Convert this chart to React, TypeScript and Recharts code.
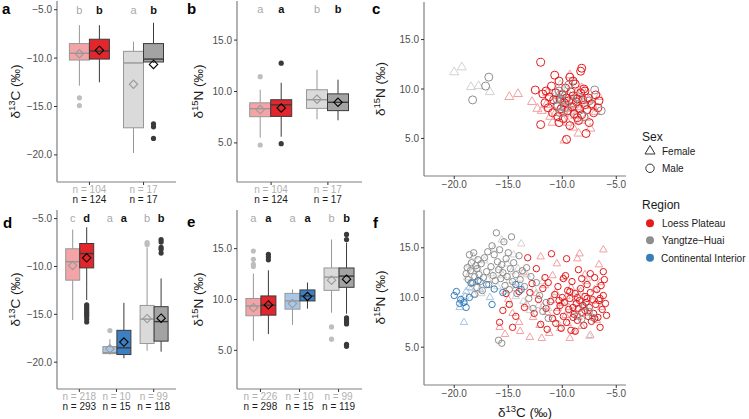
import React from 'react';
import { ComposedChart, Bar, ScatterChart, Scatter, XAxis, YAxis } from 'recharts';

const topRegions = ['Loess Plateau', 'Yangtze-Huai'];
const bottomRegions = ['Loess Plateau', 'Continental Interior', 'Yangtze-Huai'];

// box stats per region: [lower whisker, Q1, median, Q3, upper whisker, mean]
const aFemale = [[-12.85, -10.2, -9.5, -8.5, -6.6, -9.55], [-19.8, -17.2, -10.5, -9.3, -8.3, -12.7]];
const aMale = [[-12.5, -10.1, -9.27, -8.05, -6.6, -9.2], [-10.5, -10.4, -10.1, -8.5, -6.35, -10.65]];
const aFemaleOut = [[-14.1, -14.9], []];
const aMaleOut = [[], [-16.8, -17.1, -18.3]];
const aFemaleLetters = ['b', 'a'];
const aMaleLetters = ['b', 'b'];

const bFemale = [[5.52, 7.55, 8.33, 8.9, 10.17, 8.24], [7.3, 8.36, 9.2, 10.17, 12.1, 9.25]];
const bMale = [[5.6, 7.58, 8.7, 9.2, 10.85, 8.4], [7.2, 8.14, 8.95, 9.77, 11.15, 8.95]];
const bFemaleOut = [[11.44, 4.8], []];
const bMaleOut = [[12.75, 4.93], []];
const bFemaleLetters = ['a', 'b'];
const bMaleLetters = ['a', 'b'];

const topFemaleN = [104, 17];
const topMaleN = [124, 17];

const dFemale = [[-15.6, -11.43, -9.5, -8.15, -6.15, -9.9], [-19.2, -19.1, -19.0, -18.37, -17.6, -18.6], [-18.8, -18.05, -15.5, -14.07, -8.0, -15.45]];
const dMale = [[-13.5, -10.15, -8.65, -7.6, -5.9, -9.1], [-19.6, -19.2, -18.5, -16.67, -13.8, -17.9], [-18.9, -17.8, -15.76, -14.2, -11.25, -15.4]];
const dFemaleOut = [[], [-16.7], [-7.5, -7.7]];
const dMaleOut = [[-14.0, -14.2, -14.4, -14.6, -14.8, -15.0, -15.2, -15.5, -15.8], [], [-7.2, -7.45, -8.0, -8.2, -8.6]];
const dFemaleLetters = ['c', 'a', 'b'];
const dMaleLetters = ['d', 'a', 'b'];
const dFemaleN = [218, 10, 99];
const dMaleN = [293, 15, 118];

const eFemale = [[5.94, 8.4, 9.37, 10.1, 12.55, 9.2], [7.5, 9.05, 9.86, 10.6, 11.0, 9.6], [8.7, 10.9, 12.2, 13.1, 15.9, 11.9]];
const eMale = [[6.6, 8.46, 9.44, 10.35, 12.87, 9.47], [9.1, 9.86, 10.35, 10.94, 11.67, 10.3], [8.6, 11.2, 12.3, 13.1, 15.6, 12.0]];
const eFemaleOut = [[14.76, 13.95, 13.46, 13.25], [], [7.3, 6.1]];
const eMaleOut = [[14.44, 14.2, 13.9], [], [16.4, 15.9, 8.2, 8.0, 7.8, 7.6, 5.6, 5.4]];
const eFemaleLetters = ['a', 'a', 'b'];
const eMaleLetters = ['a', 'a', 'b'];
const eFemaleN = [226, 10, 99];
const eMaleN = [298, 15, 119];

// scatter points [δ13C, δ15N]
const cLoessFemale = [[-14.9, 9.2], [-14.1, 9.5], [-12.8, 8.7], [-12.3, 8.0], [-11.9, 7.8], [-11.5, 8.4], [-11.1, 7.2], [-10.8, 8.8], [-10.6, 7.6], [-10.4, 9.3], [-10.2, 8.1], [-10.0, 7.0], [-9.9, 8.6], [-9.8, 7.5], [-9.7, 9.0], [-9.6, 8.3], [-9.5, 6.6], [-9.4, 8.0], [-9.3, 11.4], [-9.2, 7.7], [-9.1, 8.9], [-9.0, 6.1], [-8.9, 8.4], [-8.8, 7.3], [-8.7, 9.6], [-8.6, 8.2], [-8.5, 5.5], [-8.4, 7.9], [-8.2, 10.1], [-8.0, 8.6], [-7.8, 7.1], [-7.6, 8.9], [-7.4, 6.0], [-7.2, 8.3], [-6.9, 7.7], [-6.6, 9.2], [-9.8, 4.8], [-10.9, 6.6], [-11.4, 9.6], [-8.3, 6.8]];
const cLoessMale = [[-12.5, 9.9], [-12.0, 12.7], [-12.0, 6.4], [-11.8, 9.5], [-11.6, 8.6], [-11.5, 9.8], [-11.3, 8.1], [-11.2, 9.2], [-11.0, 10.3], [-10.9, 7.6], [-10.8, 8.9], [-10.6, 9.6], [-10.5, 8.3], [-10.4, 7.2], [-10.3, 10.8], [-10.2, 9.0], [-10.1, 8.0], [-10.0, 9.4], [-9.9, 7.0], [-9.8, 8.6], [-9.7, 10.1], [-9.6, 9.1], [-9.5, 7.8], [-9.4, 8.8], [-9.3, 11.2], [-9.3, 6.3], [-9.2, 9.7], [-9.1, 8.2], [-9.0, 9.3], [-8.9, 7.5], [-8.8, 10.5], [-8.7, 8.7], [-8.6, 9.0], [-8.5, 6.8], [-8.4, 8.0], [-8.3, 9.6], [-8.2, 7.4], [-8.1, 8.9], [-8.0, 10.0], [-7.9, 8.4], [-7.8, 5.5], [-7.7, 7.9], [-7.6, 9.1], [-7.5, 6.6], [-7.3, 8.5], [-7.1, 7.6], [-6.9, 9.4], [-6.7, 8.1], [-9.6, 4.9], [-8.3, 11.8], [-10.7, 11.4], [-9.0, 10.8], [-8.6, 7.1], [-7.9, 9.8], [-10.3, 6.6], [-6.6, 8.8], [-8.2, 12.1]];
const cYangtzeFemale = [[-20.0, 11.7], [-19.3, 12.2], [-18.45, 10.2], [-17.75, 10.3], [-16.7, 9.7], [-10.5, 9.6], [-10.4, 8.8], [-10.2, 10.4], [-10.0, 9.1], [-9.8, 8.2], [-9.6, 9.9], [-9.4, 7.6], [-9.2, 8.9], [-9.0, 10.8], [-8.8, 9.4], [-8.5, 7.9], [-8.3, 8.6]];
const cYangtzeMale = [[-16.8, 11.2], [-17.1, 10.3], [-18.3, 8.9], [-10.5, 9.0], [-10.4, 8.3], [-10.3, 9.8], [-10.2, 7.6], [-10.1, 8.9], [-10.0, 9.5], [-9.8, 8.1], [-9.4, 10.4], [-9.0, 8.6], [-8.5, 9.2], [-8.0, 7.2], [-7.5, 8.8], [-7.0, 9.9], [-6.4, 7.8]];

const fLoessFemale = [[-15.8, 7.0], [-15.3, 6.3], [-15.0, 9.8], [-14.6, 8.4], [-14.3, 10.9], [-14.0, 7.5], [-13.6, 12.5], [-13.3, 9.3], [-13.0, 6.0], [-12.7, 8.0], [-12.4, 10.4], [-12.1, 7.2], [-11.8, 9.1], [-11.6, 11.2], [-11.4, 8.5], [-11.2, 6.4], [-11.0, 9.7], [-10.8, 7.8], [-10.6, 10.5], [-10.4, 8.9], [-10.2, 6.9], [-10.0, 9.4], [-9.9, 12.0], [-9.7, 8.2], [-9.6, 10.1], [-9.5, 7.4], [-9.4, 9.0], [-9.2, 11.0], [-9.0, 8.6], [-8.9, 6.6], [-8.7, 9.8], [-8.5, 8.0], [-8.3, 10.6], [-8.2, 7.1], [-8.0, 9.2], [-7.8, 11.6], [-7.6, 8.4], [-7.4, 6.2], [-7.2, 9.6], [-7.0, 10.8], [-6.8, 7.7], [-6.6, 13.3], [-6.4, 9.0], [-6.2, 14.8], [-8.6, 13.9], [-10.5, 13.4], [-12.0, 14.1], [-7.9, 12.3], [-9.3, 5.9], [-11.9, 5.9], [-13.9, 6.6], [-8.4, 14.4], [-10.9, 12.2], [-6.5, 11.5]];
const fLoessMale = [[-15.8, 7.5], [-15.5, 8.7], [-15.2, 10.4], [-14.9, 9.3], [-14.6, 7.0], [-14.3, 8.1], [-14.0, 10.6], [-13.5, 9.0], [-13.2, 14.0], [-11.0, 14.4], [-9.6, 13.9], [-12.4, 12.9], [-11.6, 12.0], [-12.8, 11.4], [-13.0, 10.5], [-12.6, 8.4], [-12.2, 9.8], [-12.0, 7.3], [-11.8, 10.9], [-11.5, 8.9], [-11.3, 11.5], [-11.1, 9.6], [-10.9, 7.9], [-10.7, 10.3], [-10.5, 8.6], [-10.4, 11.1], [-10.2, 9.2], [-10.1, 6.9], [-10.0, 10.0], [-9.9, 8.1], [-9.8, 9.5], [-9.7, 12.2], [-9.6, 7.5], [-9.5, 10.7], [-9.4, 8.8], [-9.3, 9.9], [-9.2, 6.7], [-9.1, 11.6], [-9.0, 9.0], [-8.9, 8.3], [-8.8, 10.4], [-8.7, 9.4], [-8.6, 7.7], [-8.5, 12.8], [-8.5, 8.9], [-8.4, 9.7], [-8.3, 10.9], [-8.2, 8.5], [-8.1, 9.2], [-8.0, 7.2], [-7.9, 10.1], [-7.9, 8.7], [-7.8, 9.5], [-7.7, 11.3], [-7.6, 8.1], [-7.5, 9.0], [-7.4, 10.5], [-7.3, 7.6], [-7.2, 9.8], [-7.1, 8.4], [-7.0, 12.0], [-6.9, 9.3], [-6.8, 10.8], [-6.7, 8.0], [-6.6, 9.7], [-6.5, 7.0], [-6.4, 11.2], [-6.3, 8.8], [-6.2, 10.2], [-6.0, 9.4], [-5.9, 8.2], [-6.1, 11.8], [-8.8, 6.6], [-9.9, 11.9], [-10.6, 7.4], [-11.4, 6.8], [-7.4, 12.4], [-8.2, 11.9], [-9.3, 10.6], [-8.6, 10.0], [-7.7, 9.9], [-9.0, 8.0], [-10.3, 9.7], [-7.0, 7.9], [-6.5, 9.9], [-6.2, 12.6]];
const fYangtzeFemale = [[-18.8, 12.0], [-18.6, 13.3], [-18.4, 10.9], [-18.3, 12.6], [-18.2, 14.1], [-18.0, 11.5], [-17.8, 12.9], [-17.5, 10.4], [-17.2, 13.7], [-16.9, 11.8], [-16.6, 12.4], [-16.3, 14.9], [-16.0, 11.1], [-15.8, 13.0], [-15.6, 15.8], [-15.5, 12.2], [-15.3, 10.6], [-15.1, 13.4], [-14.9, 11.7], [-14.7, 12.6], [-14.5, 14.3], [-14.3, 10.1], [-14.1, 12.9], [-13.9, 11.3], [-13.6, 9.6], [-13.3, 12.3], [-13.0, 8.7], [-12.6, 10.8], [-12.2, 9.2], [-11.8, 11.6], [-11.3, 8.9], [-10.8, 10.2], [-10.3, 7.3], [-9.8, 9.5], [-9.2, 8.6], [-8.6, 10.6], [-8.0, 9.0], [-7.5, 6.1], [-7.7, 11.9], [-13.8, 15.4], [-15.0, 9.3]];
const fYangtzeMale = [[-18.9, 12.4], [-18.8, 13.0], [-18.7, 11.8], [-18.6, 14.3], [-18.5, 12.7], [-18.4, 13.5], [-18.3, 11.5], [-18.2, 14.5], [-18.1, 12.1], [-18.0, 13.2], [-17.9, 11.0], [-17.9, 12.9], [-17.8, 13.8], [-17.7, 12.3], [-17.6, 11.6], [-17.5, 13.4], [-17.3, 12.0], [-17.2, 14.0], [-17.0, 12.6], [-16.8, 11.3], [-16.6, 13.1], [-16.5, 15.2], [-16.4, 12.2], [-16.3, 14.3], [-16.2, 11.7], [-16.1, 16.5], [-16.0, 13.6], [-15.9, 5.7], [-15.9, 12.8], [-15.8, 14.8], [-15.7, 11.9], [-15.6, 5.4], [-15.6, 13.3], [-15.5, 12.5], [-15.4, 15.6], [-15.3, 11.2], [-15.2, 13.9], [-15.1, 12.1], [-15.0, 14.5], [-14.9, 10.8], [-14.8, 12.9], [-14.6, 11.6], [-14.5, 13.5], [-14.3, 12.3], [-14.2, 10.4], [-14.0, 14.2], [-13.9, 11.8], [-13.7, 12.7], [-13.5, 11.1], [-13.3, 13.0], [-13.1, 9.9], [-12.9, 12.1], [-12.7, 8.9], [-12.4, 11.5], [-12.1, 10.2], [-11.8, 8.6], [-11.5, 9.5], [-11.3, 7.9], [-8.6, 8.2], [-8.2, 7.8], [-8.0, 9.1], [-7.5, 8.6], [-7.2, 8.0], [-17.4, 10.7], [-16.9, 14.6], [-14.7, 16.1], [-18.1, 10.3]];
const fInteriorFemale = [[-19.1, 7.5], [-19.5, 9.0], [-19.1, 9.6], [-19.0, 10.1], [-18.9, 10.6], [-19.3, 9.8], [-18.6, 11.0], [-18.2, 10.3], [-17.6, 10.8], [-16.7, 10.0]];
const fInteriorMale = [[-19.8, 10.6], [-20.0, 10.2], [-19.4, 9.8], [-18.9, 9.0], [-18.6, 10.0], [-18.45, 11.45], [-17.8, 11.7], [-17.0, 11.3], [-16.5, 9.3], [-16.3, 10.85], [-19.1, 9.5], [-19.5, 9.4], [-14.3, 11.3], [-13.8, 10.8], [-15.5, 10.5]];

const boxFill: Record<string, string[]> = {
  'Loess Plateau': ['#F4A4A6', '#E3262B'],
  'Yangtze-Huai': ['#DADADA', '#A3A3A3'],
  'Continental Interior': ['#A9C8E8', '#3C7FC2'],
};
const LP = ['#F3A0A2', '#E41A1C'];
const YH = ['#D2D2D2', '#8E8E8E'];
const CI = ['#A6C5E6', '#377EB8'];

const C_DOMAIN: [number, number] = [-22.8, -4.1];
const N_DOMAIN: [number, number] = [1.2, 18.8];
const C_TICKS = [-20, -15, -10, -5];
const N_TICKS = [5, 10, 15];

const frame = { stroke: '#7F7F7F', strokeWidth: 1.2 };
const tickText = { fontSize: 10, fill: '#4D4D4D' };
const fmt = (v: number) => (v < 0 ? '\u2212' : '') + Math.abs(v).toFixed(1);

const yTitle = (mass: string, el: string, dx: number) => (props: any) => {
  const { x, y, height } = props.viewBox;
  const tx = x + dx;
  const ty = y + height / 2;
  return (
    <text x={tx} y={ty} transform={`rotate(-90 ${tx} ${ty})`} textAnchor="middle" fontSize={13.5} fill="#1A1A1A">
      δ<tspan fontSize={9.5} dy={-5.5}>{mass}</tspan><tspan dy={5.5}>{el} (‰)</tspan>
    </text>
  );
};

const xTitle = (props: any) => {
  const { x, y, width } = props.viewBox;
  return (
    <text x={x + width / 2} y={y + 32} textAnchor="middle" fontSize={13.5} fill="#1A1A1A">
      δ<tspan fontSize={9.5} dy={-5.5}>13</tspan><tspan dy={5.5}>C (‰)</tspan>
    </text>
  );
};

function boxShape(sex: 'f' | 'm', letterY: number) {
  const line = sex === 'f' ? '#979797' : '#3A3A3A';
  const dot = sex === 'f' ? '#BEBEBE' : '#3A3A3A';
  const diamond = sex === 'f' ? '#9A9A9A' : '#000000';
  return (props: any) => {
    const { x, y, width, height, payload } = props;
    const [lo, q1, med, q3, hi, mean] = payload[sex + 'Stats'];
    const top = Math.min(y, y + height);
    const h = Math.abs(height);
    const k = h / (q3 - q1);
    const py = (v: number) => top + (q3 - v) * k;
    const cx = x + width / 2;
    const my = py(mean);
    const d = 4.2;
    return (
      <g>
        <line x1={cx} x2={cx} y1={py(hi)} y2={top} stroke={line} />
        <line x1={cx} x2={cx} y1={top + h} y2={py(lo)} stroke={line} />
        <rect x={x} y={top} width={width} height={h} fill={payload[sex + 'Fill']} stroke={line} />
        <line x1={x} x2={x + width} y1={py(med)} y2={py(med)} stroke={line} strokeWidth={1.4} />
        {payload[sex + 'Out'].map((v: number, i: number) => (
          <circle key={i} cx={cx} cy={py(v)} r={2.6} fill={dot} />
        ))}
        <polygon points={`${cx},${my - d} ${cx + d},${my} ${cx},${my + d} ${cx - d},${my}`} fill="none" stroke={diamond} strokeWidth={1.1} />
        <text x={cx} y={py(letterY)} dy="0.35em" textAnchor="middle" fontSize={11}
          fill={sex === 'f' ? '#A8A8A8' : '#111111'} fontWeight={sex === 'f' ? 'normal' : 'bold'}>
          {payload[sex + 'Letter']}
        </text>
      </g>
    );
  };
}

const nTick = (cats: string[], fN: number[], mN: number[]) => (p: any) => {
  const i = cats.indexOf(p.payload.value);
  return (
    <g>
      <text x={p.x} y={p.y} dy="0.71em" textAnchor="middle" fontSize={10} fill="#B0B0B0">n = {fN[i]}</text>
      <text x={p.x} y={p.y + 10} dy="0.71em" textAnchor="middle" fontSize={10} fill="#1A1A1A">n = {mN[i]}</text>
    </g>
  );
};

function BoxPanel(props: any) {
  const { left, top, width, height, xAxisHeight, cats, female, male, femaleOut, maleOut,
    femaleLetters, maleLetters, femaleN, maleN, domain, ticks, letterY, barSize, pad, mass, el, titleDx } = props;
  const rows = cats.map((c: string, i: number) => ({
    cat: c,
    f: [female[i][1], female[i][3]],
    m: [male[i][1], male[i][3]],
    fStats: female[i],
    mStats: male[i],
    fOut: femaleOut[i],
    mOut: maleOut[i],
    fLetter: femaleLetters[i],
    mLetter: maleLetters[i],
    fFill: boxFill[c][0],
    mFill: boxFill[c][1],
  }));
  return (
    <div style={{ position: 'absolute', left, top }}>
      <ComposedChart width={width} height={height} data={rows} barGap={0}
        margin={{ top: 1, right: 1, bottom: 0, left: 0 }}>
        <XAxis dataKey="cat" padding={{ left: pad, right: pad }} height={xAxisHeight} interval={0}
          axisLine={frame} tickLine={{ stroke: '#333333' }} tickSize={3} tickMargin={1}
          tick={nTick(cats, femaleN, maleN)} />
        <XAxis xAxisId="top" dataKey="cat" orientation="top" height={0} axisLine={frame} tick={false} tickLine={false} />
        <YAxis type="number" domain={domain} ticks={ticks} allowDataOverflow width={57}
          axisLine={frame} tickLine={{ stroke: '#333333' }} tickSize={3} tick={tickText} tickFormatter={fmt}
          label={{ content: yTitle(mass, el, titleDx) }} />
        <YAxis yAxisId="right" orientation="right" type="number" domain={domain} allowDataOverflow width={0}
          axisLine={frame} tick={false} tickLine={false} />
        <Bar dataKey="f" barSize={barSize} shape={boxShape('f', letterY)} isAnimationActive={false} />
        <Bar dataKey="m" barSize={barSize} shape={boxShape('m', letterY)} isAnimationActive={false} />
      </ComposedChart>
    </div>
  );
}

const circleShape = (color: string, r: number) => (p: any) => (
  <circle cx={p.cx} cy={p.cy} r={r} fill="none" stroke={color} strokeWidth={1} />
);
const triangleShape = (color: string, s: number) => (p: any) => {
  const h = s * 0.866;
  return (
    <polygon points={`${p.cx},${p.cy - (h * 2) / 3} ${p.cx - s / 2},${p.cy + h / 3} ${p.cx + s / 2},${p.cy + h / 3}`}
      fill="none" stroke={color} strokeWidth={1} />
  );
};

const toXY = (pts: number[][]) => pts.map(([x, y]) => ({ x, y }));

function ScatterPanel(props: any) {
  const { left, top, height, xAxisHeight, series, withTitle } = props;
  return (
    <div style={{ position: 'absolute', left, top }}>
      <ScatterChart width={257} height={height} margin={{ top: props.marginTop, right: 1, bottom: 0, left: 0 }}>
        <XAxis type="number" dataKey="x" domain={C_DOMAIN} ticks={C_TICKS} allowDataOverflow height={xAxisHeight}
          axisLine={frame} tickLine={{ stroke: '#333333' }} tickSize={3} tick={tickText} tickFormatter={fmt}
          label={withTitle ? { content: xTitle } : undefined} />
        <XAxis xAxisId="top" orientation="top" type="number" domain={C_DOMAIN} allowDataOverflow height={0}
          axisLine={frame} tick={false} tickLine={false} />
        <YAxis type="number" dataKey="y" domain={N_DOMAIN} ticks={N_TICKS} allowDataOverflow width={54}
          axisLine={frame} tickLine={{ stroke: '#333333' }} tickSize={3} tick={tickText} tickFormatter={fmt}
          label={{ content: yTitle('15', 'N', 15) }} />
        <YAxis yAxisId="right" orientation="right" type="number" domain={N_DOMAIN} allowDataOverflow width={0}
          axisLine={frame} tick={false} tickLine={false} />
        {series.map((s: any, i: number) => (
          <Scatter key={i} data={toXY(s.data)} shape={s.shape} isAnimationActive={false} />
        ))}
      </ScatterChart>
    </div>
  );
}

export default function App() {
  const cSeries = [
    { data: cLoessFemale, shape: triangleShape(LP[0], 9) },
    { data: cYangtzeFemale, shape: triangleShape(YH[0], 9) },
    { data: cLoessMale, shape: circleShape(LP[1], 4) },
    { data: cYangtzeMale, shape: circleShape(YH[1], 4) },
  ];
  const fSeries = [
    { data: fLoessFemale, shape: triangleShape(LP[0], 7.5) },
    { data: fYangtzeFemale, shape: triangleShape(YH[0], 7.5) },
    { data: fInteriorFemale, shape: triangleShape(CI[0], 7.5) },
    { data: fLoessMale, shape: circleShape(LP[1], 3.2) },
    { data: fYangtzeMale, shape: circleShape(YH[1], 3.2) },
    { data: fInteriorMale, shape: circleShape(CI[1], 3.2) },
  ];
  const panelLetter = { fontSize: 15, fontWeight: 'bold' as const, fill: '#000' };
  const legendText = { fontSize: 10, fill: '#1A1A1A' };
  return (
    <div style={{ position: 'absolute', left: 0, top: 0, width: 749, height: 419, background: '#fff',
      fontFamily: '"Liberation Sans", Arial, Helvetica, sans-serif', overflow: 'hidden' }}>
      <BoxPanel left={0} top={0} width={177} height={205} xAxisHeight={23} cats={topRegions}
        female={aFemale} male={aMale} femaleOut={aFemaleOut} maleOut={aMaleOut}
        femaleLetters={aFemaleLetters} maleLetters={aMaleLetters} femaleN={topFemaleN} maleN={topMaleN}
        domain={C_DOMAIN} ticks={C_TICKS} letterY={-5} barSize={20} pad={5.4} mass="13" el="C" titleDx={20} />
      <BoxPanel left={180} top={0} width={183} height={205} xAxisHeight={23} cats={topRegions}
        female={bFemale} male={bMale} femaleOut={bFemaleOut} maleOut={bMaleOut}
        femaleLetters={bFemaleLetters} maleLetters={bMaleLetters} femaleN={topFemaleN} maleN={topMaleN}
        domain={N_DOMAIN} ticks={N_TICKS} letterY={18} barSize={21} pad={5.7} mass="15" el="N" titleDx={23} />
      <ScatterPanel left={370} top={0} height={196} marginTop={2} xAxisHeight={20} series={cSeries} withTitle={false} />
      <BoxPanel left={0} top={209} width={177} height={208} xAxisHeight={28} cats={bottomRegions}
        female={dFemale} male={dMale} femaleOut={dFemaleOut} maleOut={dMaleOut}
        femaleLetters={dFemaleLetters} maleLetters={dMaleLetters} femaleN={dFemaleN} maleN={dMaleN}
        domain={C_DOMAIN} ticks={C_TICKS} letterY={-5} barSize={14} pad={3.7} mass="13" el="C" titleDx={20} />
      <BoxPanel left={180} top={209} width={183} height={208} xAxisHeight={28} cats={bottomRegions}
        female={eFemale} male={eMale} femaleOut={eFemaleOut} maleOut={eMaleOut}
        femaleLetters={eFemaleLetters} maleLetters={eMaleLetters} femaleN={eFemaleN} maleN={eMaleN}
        domain={N_DOMAIN} ticks={N_TICKS} letterY={18} barSize={15} pad={3.9} mass="15" el="N" titleDx={23} />
      <ScatterPanel left={370} top={209} height={210} marginTop={1} xAxisHeight={34} series={fSeries} withTitle />
      <svg width={749} height={419} style={{ position: 'absolute', left: 0, top: 0, pointerEvents: 'none' }}>
        <text x={2} y={14} {...panelLetter}>a</text>
        <text x={187} y={14} {...panelLetter}>b</text>
        <text x={372} y={14} {...panelLetter}>c</text>
        <text x={3} y={228} {...panelLetter}>d</text>
        <text x={187} y={227} {...panelLetter}>e</text>
        <text x={373} y={228} {...panelLetter}>f</text>
        <text x={642} y={141} fontSize={12} fill="#1A1A1A">Sex</text>
        <polygon points="650,145.5 645,154 655,154" fill="none" stroke="#333" strokeWidth={1} />
        <text x={662} y={154.5} {...legendText}>Female</text>
        <circle cx={650} cy={168.3} r={4.2} fill="none" stroke="#333" strokeWidth={1} />
        <text x={662} y={172} {...legendText}>Male</text>
        <text x={642} y={209} fontSize={12} fill="#1A1A1A">Region</text>
        <circle cx={650} cy={223.3} r={4} fill={LP[1]} />
        <text x={662} y={227} {...legendText}>Loess Plateau</text>
        <circle cx={650} cy={240.3} r={4} fill={YH[1]} />
        <text x={662} y={244} {...legendText}>Yangtze{'\u2212'}Huai</text>
        <circle cx={650} cy={257.7} r={4} fill={CI[1]} />
        <text x={661} y={261.5} {...legendText}>Continental Interior</text>
      </svg>
    </div>
  );
}
